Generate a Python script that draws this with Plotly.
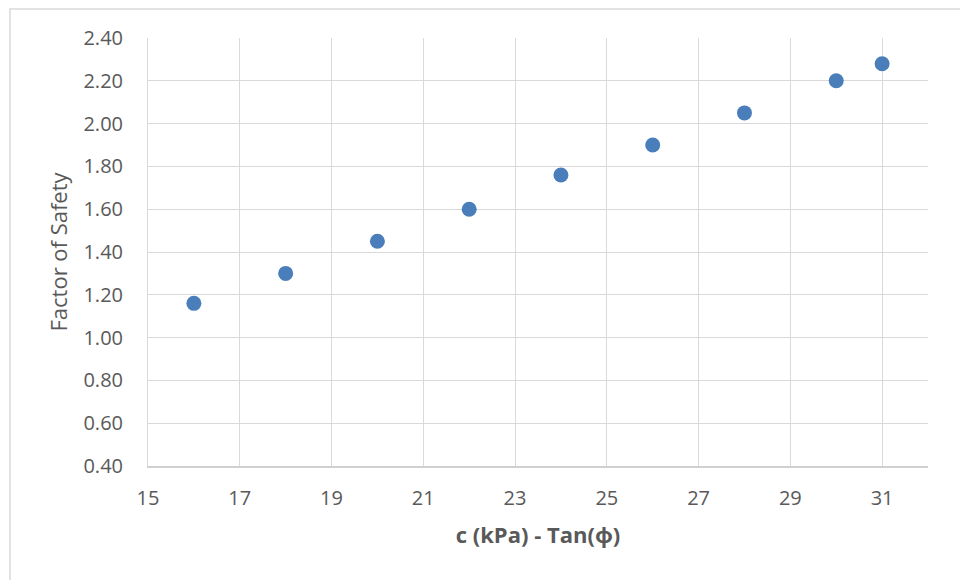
import plotly.graph_objects as go

x_vals = [16, 18, 20, 22, 24, 26, 28, 30, 31]
fos = [1.16, 1.30, 1.45, 1.60, 1.76, 1.90, 2.05, 2.20, 2.28]
x_ticks = [15, 17, 19, 21, 23, 25, 27, 29, 31]
y_ticks = [0.4, 0.6, 0.8, 1.0, 1.2, 1.4, 1.6, 1.8, 2.0, 2.2, 2.4]

L, R, T, B = 148, 32, 38, 114
W, H = 960, 580
pw, ph = W - L - R, H - T - B

fig = go.Figure(go.Scatter(
    x=x_vals, y=fos, mode="markers",
    marker=dict(size=15, color="#4a7ebb", line=dict(width=0)),
))

fig.update_layout(
    width=W, height=H,
    margin=dict(l=L, r=R, t=T, b=B),
    paper_bgcolor="white", plot_bgcolor="white",
    font=dict(family="Open Sans, Noto Sans, sans-serif", color="#595959"),
    showlegend=False,
    xaxis=dict(
        range=[15, 32], tickvals=x_ticks, ticktext=[str(v) for v in x_ticks],
        showgrid=True, gridcolor="#d9d9d9", gridwidth=1,
        showline=True, linecolor="#d0d0d0", linewidth=1.5,
        zeroline=False, tickfont=dict(size=20), ticklabelstandoff=13,
        title=dict(text="<b>c (kPa) - Tan(ϕ)</b>", font=dict(size=22, color="#595959"), standoff=18),
    ),
    yaxis=dict(
        range=[0.4, 2.4], tickvals=y_ticks, ticktext=[f"{v:.2f}" for v in y_ticks],
        showgrid=True, gridcolor="#d9d9d9", gridwidth=1,
        showline=True, linecolor="#d9d9d9", linewidth=1,
        zeroline=False, tickfont=dict(size=20), ticklabelstandoff=20,
        title=dict(text="Factor of Safety", font=dict(size=22, color="#595959"), standoff=9),
    ),
    shapes=[dict(
        type="rect", xref="paper", yref="paper",
        x0=(10 - L) / pw, x1=(W + 5 - L) / pw,
        y0=(T + ph - (H + 5)) / ph, y1=1 + (T - 9) / ph,
        line=dict(color="#d9d9d9", width=1.5), fillcolor="rgba(0,0,0,0)", layer="below",
    )],
)

fig.write_html("out.html")
